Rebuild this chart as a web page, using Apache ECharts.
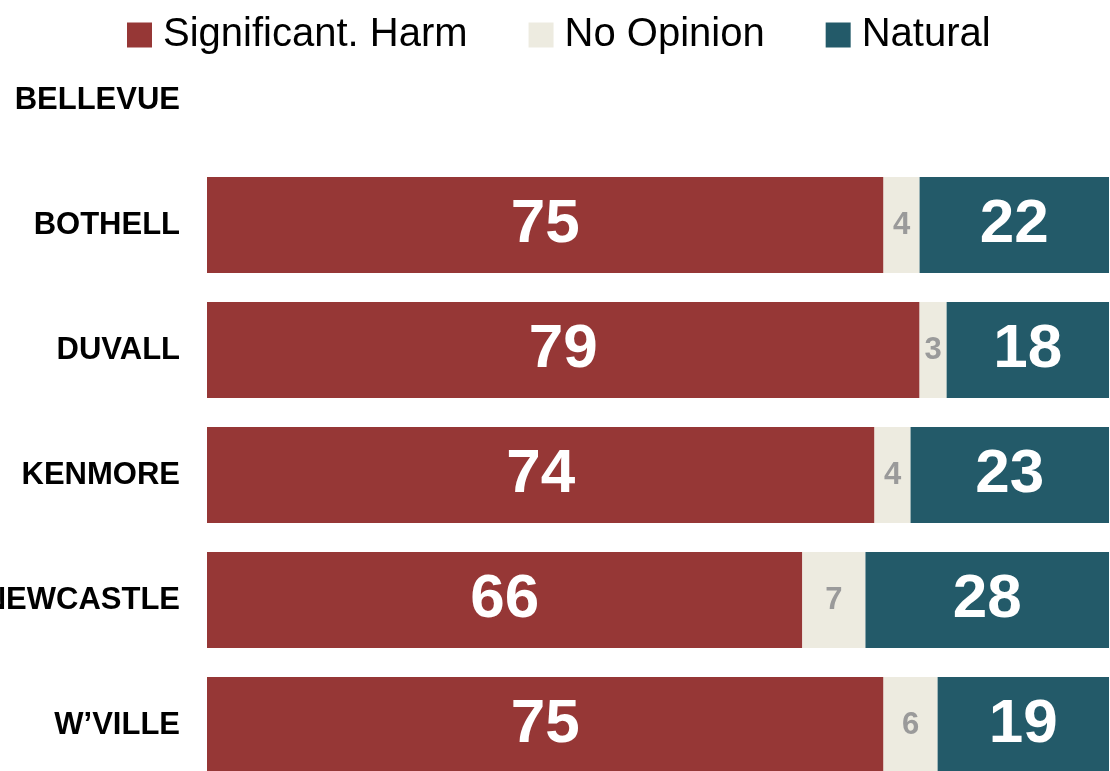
<!DOCTYPE html>
<html>
<head>
<meta charset="utf-8">
<script src="https://cdn.jsdelivr.net/npm/echarts@6/dist/echarts.min.js"></script>
<style>
  html, body { margin: 0; padding: 0; background: #ffffff; }
  #chart { width: 1110px; height: 771px; }
</style>
</head>
<body>
<div id="chart"></div>
<script>
// Survey answers by city (percent); Bellevue has no responses shown
const cities = ['BELLEVUE', 'BOTHELL', 'DUVALL', 'KENMORE', 'NEWCASTLE', 'W\u2019VILLE'];
const significantHarm = [null, 75, 79, 74, 66, 75];
const noOpinion = [null, 4, 3, 4, 7, 6];
const natural = [null, 22, 18, 23, 28, 19];
const seriesNames = ['Significant. Harm', 'No Opinion', 'Natural'];

const colors = ['#963736', '#EDEBE0', '#235A69'];

const bigLabel = {
  show: true,
  position: 'inside',
  color: '#ffffff',
  fontFamily: "'Liberation Sans', Arial, sans-serif",
  fontWeight: 'bold',
  fontSize: 62
};
const smallLabel = {
  show: true,
  position: 'inside',
  color: '#9a9a9a',
  fontFamily: "'Liberation Sans', Arial, sans-serif",
  fontWeight: 'bold',
  fontSize: 31
};

function makeSeries(name, data, color, label) {
  return {
    name: name,
    type: 'bar',
    stack: 'total',
    data: data,
    barWidth: 96,
    itemStyle: { color: color },
    label: label,
    emphasis: { disabled: true }
  };
}

const chart = echarts.init(document.getElementById('chart'), null, { renderer: 'canvas' });
chart.setOption({
  animation: false,
  backgroundColor: '#ffffff',
  legend: {
    top: 15,
    left: 127,
    padding: 0,
    itemWidth: 25,
    itemHeight: 25,
    itemGap: 61,
    icon: 'rect',
    textStyle: {
      fontFamily: "'Liberation Sans', Arial, sans-serif",
      fontSize: 40,
      color: '#000000',
      padding: [0, 0, 0, 6]
    },
    data: seriesNames
  },
  grid: {
    left: 207,
    right: 1,
    top: 37.5,
    height: 750,
    containLabel: false,
    outerBoundsMode: 'none'
  },
  xAxis: {
    type: 'value',
    min: 0,
    max: 100,
    show: false
  },
  yAxis: {
    type: 'category',
    inverse: true,
    data: cities,
    axisLine: { show: false },
    axisTick: { show: false },
    splitLine: { show: false },
    axisLabel: {
      margin: 27,
      color: '#000000',
      fontFamily: "'Liberation Sans', Arial, sans-serif",
      fontWeight: 'bold',
      fontSize: 31
    }
  },
  series: [
    makeSeries(seriesNames[0], significantHarm, colors[0], bigLabel),
    makeSeries(seriesNames[1], noOpinion, colors[1], smallLabel),
    makeSeries(seriesNames[2], natural, colors[2], bigLabel)
  ]
});
</script>
</body>
</html>
